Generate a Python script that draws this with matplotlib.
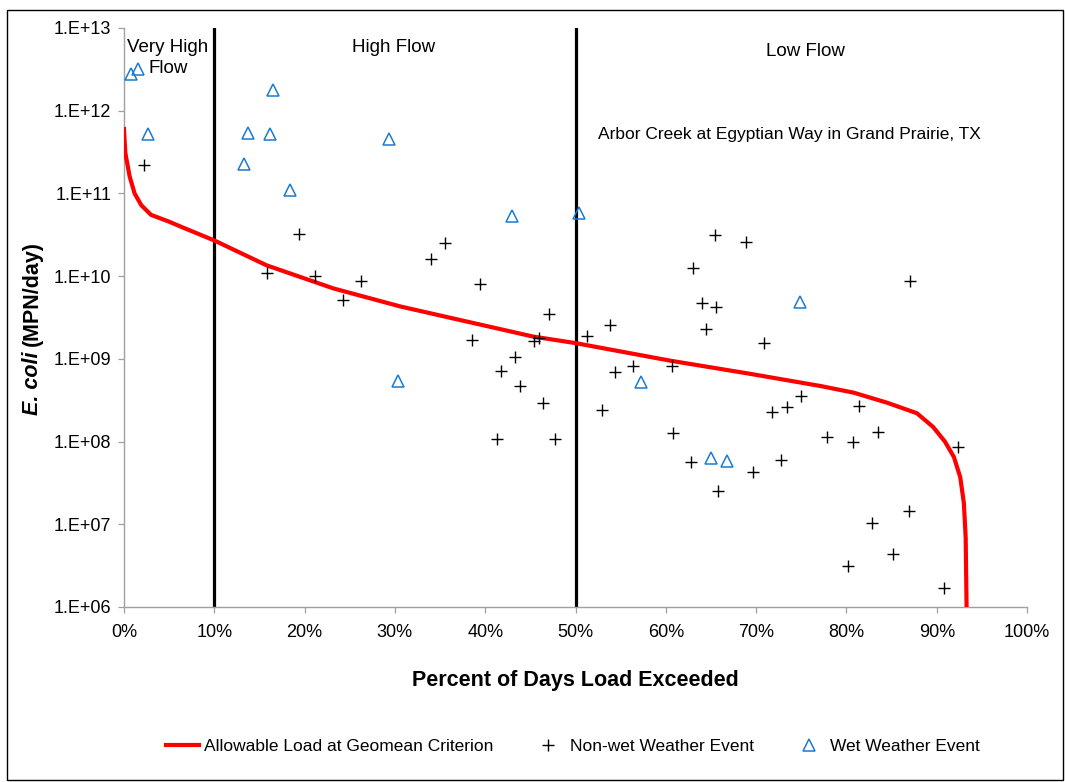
import numpy as np
import matplotlib
matplotlib.use("Agg")
import matplotlib.pyplot as plt
from matplotlib.ticker import FixedLocator, FuncFormatter
from matplotlib.patches import Rectangle

plt.rcParams['font.family'] = ['Liberation Sans', 'DejaVu Sans']

# allowable load duration curve (percent exceeded, MPN/day)
curve_pct = [0, 0.15, 0.63, 1.18, 1.92, 3.0, 4.9, 6.7, 10, 15.8, 23.2, 30.6, 37.2, 45.3, 50,
             60.5, 69.3, 77.1, 80.8, 84.5, 87.8, 89.6, 90.9, 91.9, 92.6, 93.0, 93.2, 93.3]
curve_load = [6.0e11, 3.1e11, 1.6e11, 1.0e11, 7.2e10, 5.5e10, 4.6e10, 3.8e10, 2.7e10, 1.35e10,
              7.1e9, 4.3e9, 2.95e9, 1.86e9, 1.55e9, 9.5e8, 6.6e8, 4.7e8, 3.9e8, 2.95e8,
              2.2e8, 1.5e8, 1.0e8, 6.5e7, 3.7e7, 1.8e7, 6.9e6, 1.0e6]

# non-wet weather samples
dry_pct = [2.25, 15.8, 19.4, 21.2, 24.3, 26.2, 34.0, 35.6, 38.5, 39.4, 41.3, 41.7, 43.3,
           43.9, 45.4, 46.0, 46.4, 47.1, 47.7, 51.3, 52.9, 53.8, 54.4, 56.4, 60.7, 60.8,
           62.8, 63.0, 64.0, 64.5, 65.4, 65.6, 65.8, 68.9, 69.7, 70.9, 71.8, 72.8, 73.4,
           75.0, 77.8, 80.2, 80.7, 81.4, 82.8, 83.5, 85.1, 86.9, 87.0, 90.8, 92.4]
dry_load = [2.2e11, 1.1e10, 3.2e10, 1.0e10, 5.2e9, 8.7e9, 1.6e10, 2.5e10, 1.7e9, 8.0e9,
            1.07e8, 7.1e8, 1.05e9, 4.7e8, 1.65e9, 1.78e9, 2.96e8, 3.5e9, 1.07e8, 1.9e9,
            2.4e8, 2.6e9, 6.9e8, 8.1e8, 8.3e8, 1.26e8, 5.6e7, 1.26e10, 4.8e9, 2.3e9,
            3.1e10, 4.2e9, 2.5e7, 2.6e10, 4.3e7, 1.55e9, 2.3e8, 6.0e7, 2.6e8, 3.6e8,
            1.15e8, 3.1e6, 9.8e7, 2.7e8, 1.05e7, 1.29e8, 4.4e6, 1.45e7, 8.7e9, 1.7e6, 8.7e7]

# wet weather samples
wet_pct = [0.78, 1.6, 2.7, 13.3, 13.7, 16.2, 16.5, 18.4, 29.3, 30.3, 43.0, 50.4, 57.3,
           65.0, 66.8, 74.9]
wet_load = [2.8e12, 3.2e12, 5.2e11, 2.3e11, 5.4e11, 5.3e11, 1.8e12, 1.1e11, 4.6e11, 5.4e8,
            5.3e10, 5.8e10, 5.2e8, 6.3e7, 5.9e7, 4.9e9]

flow_breaks = [10, 50]
x_ticks = list(range(0, 101, 10))
y_ticks = [1e6, 1e7, 1e8, 1e9, 1e10, 1e11, 1e12, 1e13]

fig = plt.figure(figsize=(10.65, 7.82), dpi=100)
ax = fig.add_axes([0.1164, 0.2238, 0.848, 0.7404])

for xb in flow_breaks:
    ax.axvline(xb, color='black', lw=2.3, zorder=2)

ax.plot(curve_pct, curve_load, color='#FF0000', lw=3, zorder=3, solid_joinstyle='round',
        label='Allowable Load at Geomean Criterion')
ax.plot(dry_pct, dry_load, ls='none', marker='+', ms=9, mew=1.0, color='black', zorder=4,
        label='Non-wet Weather Event')
ax.plot(wet_pct, wet_load, ls='none', marker='^', ms=9, mew=1.1, mfc='none',
        mec='#1A7BD0', zorder=4, label='Wet Weather Event')

ax.set_yscale('log')
ax.set_xlim(0, 100)
ax.set_ylim(1e6, 1e13)
ax.xaxis.set_major_locator(FixedLocator(x_ticks))
ax.xaxis.set_major_formatter(FuncFormatter(lambda v, p: f"{int(v)}%"))
ax.yaxis.set_major_locator(FixedLocator(y_ticks))
ax.yaxis.set_minor_locator(FixedLocator([]))
ax.yaxis.set_major_formatter(FuncFormatter(lambda v, p: f"1.E+{int(round(np.log10(v))):02d}"))
ax.tick_params(axis='both', direction='out', length=4, width=0.9, color='#A0A0A0',
               labelsize=13, pad=5)
ax.tick_params(axis='x', pad=8)

for side in ['top', 'right']:
    ax.spines[side].set_visible(False)
for side in ['left', 'bottom']:
    ax.spines[side].set_color('#A0A0A0')
    ax.spines[side].set_linewidth(1.0)

ax.set_xlabel('Percent of Days Load Exceeded', fontsize=15.5, fontweight='bold', labelpad=21)

# region labels
ax.text(0.3, 10**12.77, 'Very High', fontsize=13.5, ha='left', va='center')
ax.text(2.7, 10**12.51, 'Flow', fontsize=13.5, ha='left', va='center')
ax.text(29.9, 10**12.77, 'High Flow', fontsize=13.5, ha='center', va='center')
ax.text(75.5, 10**12.72, 'Low Flow', fontsize=13.5, ha='center', va='center')
ax.text(52.5, 10**11.71, 'Arbor Creek at Egyptian Way in Grand Prairie, TX',
        fontsize=12.5, ha='left', va='center')

# y label: italic species name, then units stacked above it
ylab_x = 32 / 1065
t1 = fig.text(ylab_x, 1 - 415 / 782, 'E. coli', rotation=90, fontsize=15.5, fontweight='bold',
              style='italic', ha='center', va='bottom')
fig.canvas.draw()
bb = t1.get_window_extent().transformed(fig.transFigure.inverted())
fig.text(ylab_x, bb.y1 + 5 / 782, '(MPN/day)', rotation=90, fontsize=15.5, fontweight='bold',
         ha='center', va='bottom')

fig.legend(loc='center', bbox_to_anchor=(0.538, 0.045), ncol=3, frameon=False, fontsize=12.5,
           handlelength=1.9, handletextpad=0.3, columnspacing=2.2)

fig.patches.append(Rectangle((7 / 1065, 1 - 780 / 782), 1056 / 1065, 770 / 782,
                             transform=fig.transFigure, fill=False, ec='black', lw=1.0))

fig.savefig('out.png', dpi=100)
